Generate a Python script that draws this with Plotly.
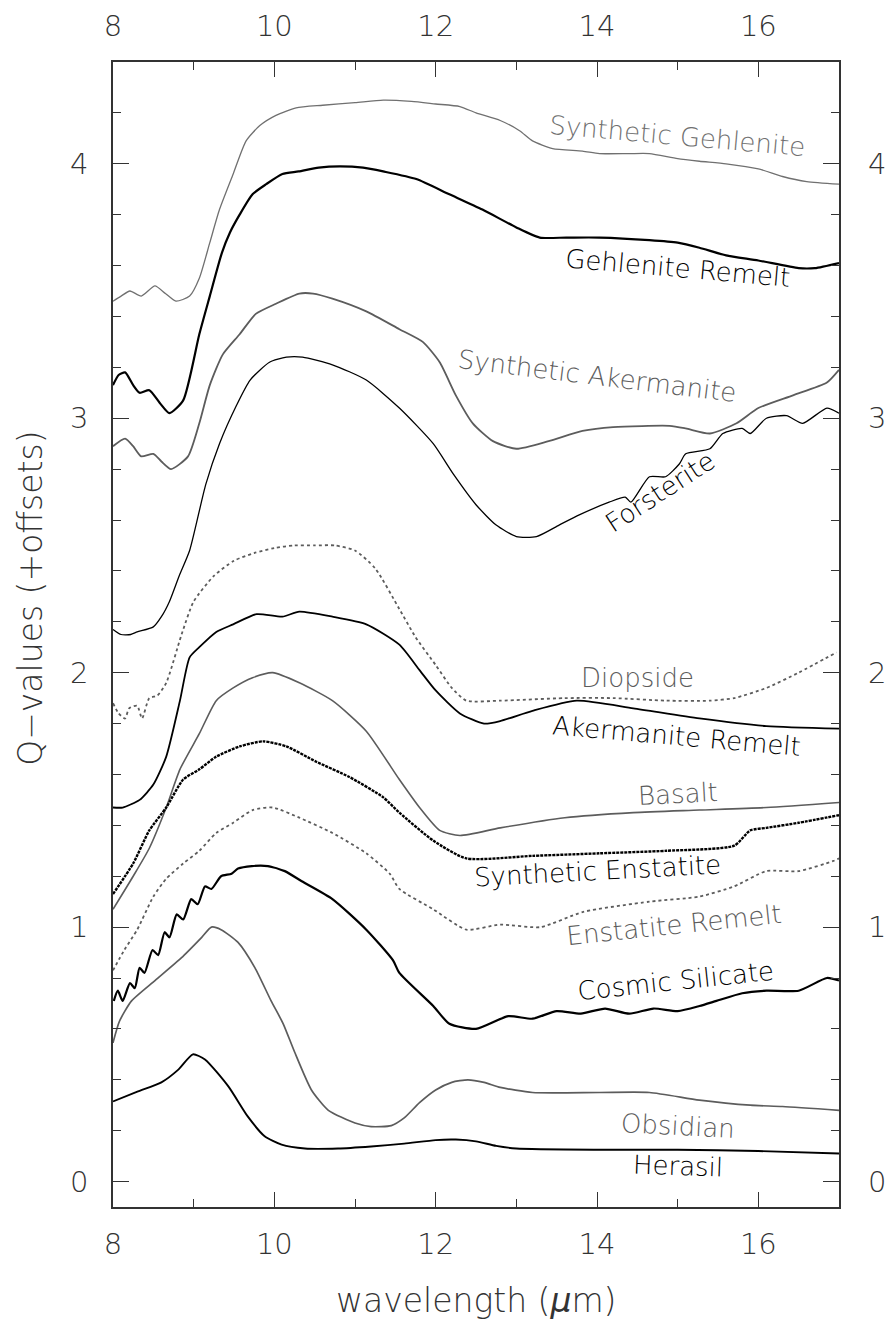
import plotly.graph_objects as go

# ---------------- data ----------------
sg_x = [8.0, 8.1, 8.21, 8.35, 8.52, 8.65, 8.78, 8.95, 9.07, 9.2, 9.32, 9.49, 9.65, 9.82, 10.02, 10.27, 10.6, 11.0, 11.35, 11.7, 12.0, 12.3, 12.5, 12.8, 13.04, 13.2, 13.45, 13.82, 14.03, 14.4, 14.65, 15.0, 15.27, 15.6, 16.0, 16.3, 16.6, 17.0]
sg_y = [3.46, 3.48, 3.50, 3.48, 3.52, 3.49, 3.46, 3.48, 3.55, 3.69, 3.82, 3.96, 4.09, 4.15, 4.19, 4.22, 4.23, 4.24, 4.25, 4.245, 4.235, 4.225, 4.20, 4.17, 4.13, 4.09, 4.06, 4.05, 4.04, 4.04, 4.04, 4.02, 4.01, 4.00, 3.98, 3.95, 3.93, 3.92]

gr_x = [8.0, 8.07, 8.15, 8.25, 8.33, 8.45, 8.58, 8.7, 8.87, 9.07, 9.2, 9.35, 9.45, 9.57, 9.73, 9.9, 10.1, 10.3, 10.55, 10.81, 11.1, 11.35, 11.76, 12.17, 12.58, 13.0, 13.29, 13.62, 14.03, 14.65, 15.0, 15.27, 15.6, 16.0, 16.5, 16.7, 17.0]
gr_y = [3.13, 3.17, 3.18, 3.13, 3.10, 3.11, 3.06, 3.02, 3.07, 3.33, 3.48, 3.65, 3.73, 3.80, 3.88, 3.92, 3.96, 3.97, 3.985, 3.99, 3.985, 3.97, 3.94, 3.88, 3.82, 3.75, 3.71, 3.71, 3.71, 3.70, 3.69, 3.67, 3.64, 3.62, 3.59, 3.59, 3.61]

sa_x = [8.0, 8.15, 8.25, 8.35, 8.5, 8.6, 8.72, 8.93, 9.07, 9.2, 9.36, 9.57, 9.77, 10.02, 10.31, 10.48, 10.72, 11.14, 11.55, 11.84, 12.05, 12.25, 12.46, 12.71, 13.0, 13.4, 13.82, 14.2, 14.9, 15.1, 15.4, 15.73, 16.0, 16.43, 16.85, 17.0]
sa_y = [2.89, 2.92, 2.89, 2.85, 2.86, 2.83, 2.80, 2.85, 2.98, 3.13, 3.25, 3.33, 3.41, 3.45, 3.49, 3.49, 3.47, 3.42, 3.35, 3.30, 3.22, 3.09, 2.98, 2.91, 2.88, 2.91, 2.95, 2.965, 2.97, 2.96, 2.94, 2.98, 3.04, 3.09, 3.14, 3.19]

fo_x = [8.0, 8.1, 8.22, 8.3, 8.5, 8.6, 8.7, 8.82, 8.95, 9.15, 9.32, 9.53, 9.7, 9.94, 10.15, 10.35, 10.72, 11.14, 11.55, 11.97, 12.22, 12.5, 12.75, 13.0, 13.25, 13.53, 13.78, 14.15, 14.35, 14.42, 14.65, 14.85, 15.02, 15.1, 15.4, 15.56, 15.8, 15.9, 16.1, 16.35, 16.55, 16.85, 17.0]
fo_y = [2.17, 2.15, 2.15, 2.16, 2.18, 2.22, 2.28, 2.38, 2.48, 2.74, 2.90, 3.05, 3.15, 3.22, 3.24, 3.24, 3.21, 3.15, 3.04, 2.90, 2.78, 2.66, 2.58, 2.535, 2.535, 2.58, 2.62, 2.67, 2.69, 2.67, 2.77, 2.77, 2.82, 2.86, 2.88, 2.94, 2.96, 2.94, 3.00, 3.01, 2.98, 3.04, 3.02]

di_x = [8.0, 8.07, 8.15, 8.2, 8.3, 8.36, 8.45, 8.55, 8.66, 8.85, 9.0, 9.25, 9.5, 9.75, 10.0, 10.25, 10.5, 10.75, 11.0, 11.25, 11.55, 11.75, 12.0, 12.2, 12.38, 12.8, 13.6, 14.2, 14.86, 15.4, 15.7, 16.1, 16.5, 16.97]
di_y = [1.88, 1.84, 1.82, 1.86, 1.87, 1.82, 1.90, 1.91, 1.96, 2.15, 2.28, 2.38, 2.44, 2.47, 2.49, 2.50, 2.50, 2.50, 2.48, 2.41, 2.25, 2.14, 2.03, 1.94, 1.89, 1.89, 1.90, 1.90, 1.89, 1.89, 1.90, 1.94, 2.00, 2.08]

ar_x = [8.0, 8.12, 8.33, 8.5, 8.66, 8.83, 8.95, 9.07, 9.28, 9.49, 9.78, 10.1, 10.31, 10.72, 11.14, 11.55, 11.8, 12.0, 12.3, 12.6, 12.8, 13.2, 13.75, 14.45, 15.27, 16.1, 17.0]
ar_y = [1.47, 1.47, 1.50, 1.56, 1.67, 1.89, 2.06, 2.10, 2.16, 2.19, 2.23, 2.22, 2.24, 2.22, 2.19, 2.11, 2.01, 1.93, 1.84, 1.80, 1.81, 1.85, 1.89, 1.86, 1.82, 1.79, 1.78]

ba_x = [8.0, 8.25, 8.45, 8.66, 8.83, 9.07, 9.28, 9.49, 9.73, 9.98, 10.31, 10.72, 11.14, 11.55, 11.8, 12.05, 12.3, 12.8, 13.6, 14.45, 15.27, 16.1, 17.0]
ba_y = [1.07, 1.20, 1.31, 1.47, 1.62, 1.76, 1.89, 1.94, 1.98, 2.00, 1.96, 1.89, 1.77, 1.58, 1.47, 1.38, 1.36, 1.39, 1.43, 1.45, 1.46, 1.47, 1.49]

se_x = [8.0, 8.25, 8.45, 8.66, 8.87, 9.07, 9.28, 9.57, 9.86, 10.15, 10.52, 10.93, 11.35, 11.55, 11.97, 12.38, 13.2, 14.03, 14.86, 15.7, 15.9, 16.1, 16.5, 17.0]
se_y = [1.13, 1.25, 1.38, 1.47, 1.58, 1.62, 1.67, 1.71, 1.73, 1.71, 1.65, 1.59, 1.51, 1.45, 1.34, 1.27, 1.28, 1.29, 1.30, 1.32, 1.38, 1.39, 1.41, 1.44]

er_x = [8.0, 8.14, 8.3, 8.5, 8.66, 8.87, 9.07, 9.28, 9.49, 9.73, 9.98, 10.31, 10.72, 11.14, 11.43, 11.55, 11.97, 12.38, 12.8, 13.3, 13.83, 14.65, 15.27, 15.7, 16.1, 16.5, 16.93, 17.0]
er_y = [0.83, 0.91, 0.99, 1.12, 1.19, 1.25, 1.30, 1.37, 1.41, 1.46, 1.47, 1.43, 1.37, 1.29, 1.21, 1.15, 1.07, 0.99, 1.01, 1.00, 1.06, 1.10, 1.12, 1.16, 1.22, 1.22, 1.26, 1.27]

cs_x = [8.01, 8.06, 8.12, 8.21, 8.27, 8.33, 8.39, 8.49, 8.56, 8.64, 8.70, 8.79, 8.87, 8.97, 9.05, 9.14, 9.22, 9.34, 9.47, 9.55, 9.72, 9.92, 10.13, 10.34, 10.72, 11.14, 11.47, 11.55, 11.97, 12.17, 12.5, 12.9, 13.2, 13.5, 13.8, 14.1, 14.4, 14.7, 15.0, 15.27, 15.48, 15.8, 16.1, 16.5, 16.85, 17.0]
cs_y = [0.71, 0.75, 0.71, 0.78, 0.76, 0.84, 0.82, 0.91, 0.89, 0.98, 0.96, 1.05, 1.03, 1.11, 1.09, 1.16, 1.15, 1.20, 1.21, 1.23, 1.24, 1.24, 1.22, 1.18, 1.11, 0.99, 0.87, 0.82, 0.69, 0.62, 0.60, 0.65, 0.64, 0.67, 0.66, 0.68, 0.66, 0.68, 0.67, 0.69, 0.71, 0.74, 0.75, 0.75, 0.80, 0.79]

ob_x = [8.0, 8.08, 8.23, 8.52, 8.85, 9.1, 9.22, 9.34, 9.55, 9.76, 9.96, 10.11, 10.25, 10.46, 10.67, 11.0, 11.2, 11.45, 11.61, 11.8, 12.0, 12.2, 12.4, 12.6, 12.8, 13.2, 14.03, 14.65, 15.27, 15.9, 16.3, 17.0]
ob_y = [0.545, 0.63, 0.71, 0.79, 0.88, 0.96, 1.0, 0.99, 0.94, 0.84, 0.71, 0.62, 0.51, 0.36, 0.28, 0.23, 0.216, 0.22, 0.25, 0.31, 0.36, 0.39, 0.40, 0.39, 0.37, 0.35, 0.35, 0.35, 0.32, 0.30, 0.295, 0.28]

he_x = [8.0, 8.31, 8.6, 8.81, 8.99, 9.14, 9.43, 9.67, 9.88, 10.09, 10.38, 10.79, 11.2, 11.61, 12.0, 12.25, 12.5, 12.75, 13.0, 14.0, 15.0, 16.0, 17.0]
he_y = [0.315, 0.354, 0.39, 0.44, 0.50, 0.48, 0.374, 0.256, 0.178, 0.145, 0.13, 0.13, 0.138, 0.149, 0.163, 0.165, 0.158, 0.14, 0.13, 0.125, 0.125, 0.12, 0.11]

labels = ["Synthetic Gehlenite", "Gehlenite Remelt", "Synthetic Akermanite", "Forsterite",
          "Diopside", "Akermanite Remelt", "Basalt", "Synthetic Enstatite",
          "Enstatite Remelt", "Cosmic Silicate", "Obsidian", "Herasil"]
x_ticks = [8, 10, 12, 14, 16]
y_ticks = [0, 1, 2, 3, 4]

# ---------------- styling ----------------
BLACK = "#000000"
GREY = "#5c5c5c"
LGREY = "#707070"
FONT = "DejaVu Sans"
FW = 200

series = [
    (sg_x, sg_y, LGREY, 1.3, "solid"),
    (gr_x, gr_y, BLACK, 2.2, "solid"),
    (sa_x, sa_y, GREY, 1.8, "solid"),
    (fo_x, fo_y, BLACK, 1.3, "solid"),
    (di_x, di_y, GREY, 1.8, "dot"),
    (ar_x, ar_y, BLACK, 1.8, "solid"),
    (ba_x, ba_y, GREY, 1.6, "solid"),
    (se_x, se_y, BLACK, 2.4, "3px,1px"),
    (er_x, er_y, GREY, 1.8, "dot"),
    (cs_x, cs_y, BLACK, 2.2, "solid"),
    (ob_x, ob_y, GREY, 1.7, "solid"),
    (he_x, he_y, BLACK, 1.9, "solid"),
]

# label placement (data coords), angle, color
label_pos = [
    (15.0, 4.11, 5, LGREY),
    (15.0, 3.59, 5, BLACK),
    (14.0, 3.165, 7, GREY),
    (14.78, 2.71, -33, BLACK),
    (14.5, 1.98, 0, GREY),
    (14.98, 1.75, 5, BLACK),
    (15.0, 1.525, -3, GREY),
    (14.0, 1.22, -3, BLACK),
    (14.96, 1.01, -6, GREY),
    (14.97, 0.79, -6, BLACK),
    (15.01, 0.22, 3, GREY),
    (15.01, 0.063, 2, BLACK),
]

fig = go.Figure()
for (xs, ys, col, w, dash), name in zip(series, labels):
    fig.add_trace(go.Scatter(x=xs, y=ys, mode="lines", name=name,
                             line=dict(color=col, width=w, dash=dash, shape="spline", smoothing=0.6),
                             showlegend=False, hoverinfo="skip"))

# invisible trace to activate secondary (top/right) axes
fig.add_trace(go.Scatter(x=[8, 17], y=[None, None], xaxis="x2", yaxis="y2",
                         mode="lines", showlegend=False, hoverinfo="skip"))

for (lx, ly, ang, col), name in zip(label_pos, labels):
    fig.add_annotation(x=lx, y=ly, xref="x", yref="y", text=name, showarrow=False,
                       textangle=ang, font=dict(family=FONT, size=26, color=col, weight=FW))

axis_col = "#333333"
tickfont = dict(family=FONT, size=29, color="#333333", weight=FW)
common_x = dict(range=[8, 17], tickvals=x_ticks, ticks="inside", ticklen=15, tickwidth=1.3,
                tickcolor=axis_col, showgrid=False, zeroline=False, tickfont=tickfont, automargin=False,
                minor=dict(ticks="inside", ticklen=8, tickwidth=1.3, tickcolor=axis_col, dtick=1, tick0=8))
common_y = dict(range=[-0.1, 4.4], tickvals=y_ticks, ticks="inside", ticklen=16, tickwidth=1.3,
                tickcolor=axis_col, showgrid=False, zeroline=False, tickfont=tickfont, automargin=False,
                minor=dict(ticks="inside", ticklen=8, tickwidth=1.3, tickcolor=axis_col, dtick=0.2, tick0=0))

fig.update_layout(
    width=887, height=1324,
    margin=dict(l=113, r=48, t=62, b=117, autoexpand=False),
    paper_bgcolor="white", plot_bgcolor="white",
    xaxis=dict(**common_x, showline=True, linecolor=axis_col, linewidth=1.5, mirror=True,
               ticklabelstandoff=10),
    yaxis=dict(**common_y, showline=True, linecolor=axis_col, linewidth=1.5, mirror=True,
               ticklabelstandoff=17),
    xaxis2=dict(**common_x, overlaying="x", side="top", anchor="y", showline=False,
                ticklabelstandoff=19),
    yaxis2=dict(**common_y, overlaying="y", side="right", anchor="x", showline=False,
                ticklabelstandoff=28),
)

fig.add_annotation(x=0.5, y=-0.082, xref="paper", yref="paper", xanchor="center", yanchor="middle",
                   text="wavelength (<i>μ</i>m)", showarrow=False,
                   font=dict(family=FONT, size=33, color="#333333", weight=FW))
fig.add_annotation(x=-0.113, y=0.532, xref="paper", yref="paper", xanchor="center", yanchor="middle",
                   text="Q−values (+offsets)", showarrow=False, textangle=-90,
                   font=dict(family=FONT, size=33, color="#333333", weight=FW))

# remove the default page margin so the figure fills the window exactly; hide the modebar
fig.write_html("out.html", config={"displayModeBar": False},
               post_script="document.body.style.margin='0';")
